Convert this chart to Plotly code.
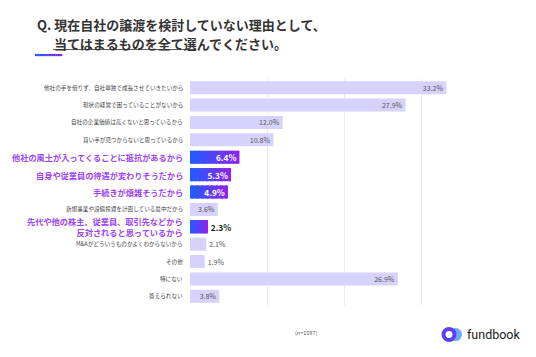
import plotly.graph_objects as go

categories = [
    "他社の手を借りず、自社単独で成長させていきたいから",
    "現状の経営で困っていることがないから",
    "自社の企業価値は高くないと思っているから",
    "買い手が見つからないと思っているから",
    "他社の風土が入ってくることに抵抗があるから",
    "自身や従業員の待遇が変わりそうだから",
    "手続きが煩雑そうだから",
    "新規事業や設備投資を計画している最中だから",
    "先代や他の株主、従業員、取引先などから<br>反対されると思っているから",
    "M&Aがどういうものかよくわからないから",
    "その他",
    "特にない",
    "答えられない",
]
values = [33.2, 27.9, 12.0, 10.8, 6.4, 5.3, 4.9, 3.6, 2.3, 2.1, 1.9, 26.9, 3.8]
highlight = [0, 0, 0, 0, 1, 1, 1, 0, 1, 0, 0, 0, 0]

OFF = 8  # page body margin
W, H = 536 - 2 * OFF, 357 - 2 * OFF
ML, MT = 190 - OFF, 79 - OFF
PW, PH = 309, 226.4
MR = W - ML - PW
MB = H - MT - PH
FONT = "Noto Sans CJK JP"

def px(x):
    return (x - OFF - ML) / PW

def py(y):
    return (MT + PH - (y - OFF)) / PH

ycats = [f"c{i}" for i in range(len(categories))]
BW = 0.75

fig = go.Figure()

light_y = [ycats[i] for i in range(len(values)) if not highlight[i]]
light_x = [values[i] for i in range(len(values)) if not highlight[i]]
fig.add_trace(go.Bar(y=light_y, x=light_x, orientation="h", width=BW,
                     marker=dict(color="#d5d2fb", line=dict(width=0)),
                     showlegend=False, hoverinfo="skip"))

def lerp(c1, c2, t):
    return "#%02x%02x%02x" % tuple(round(a + (b - a) * t) for a, b in zip(c1, c2))

C1, C2 = (0x1f, 0x5e, 0xff), (0x8e, 0x22, 0xee)
hi_idx = [i for i in range(len(values)) if highlight[i]]
N = 30
for k in range(N):
    fig.add_trace(go.Bar(
        y=[ycats[i] for i in hi_idx],
        x=[values[i] / N * (1.0 if k == N - 1 else 1.15) for i in hi_idx],
        base=[values[i] * k / N for i in hi_idx],
        orientation="h", width=BW,
        marker=dict(color=lerp(C1, C2, k / (N - 1)), line=dict(width=0)),
        showlegend=False, hoverinfo="skip"))

texts, pos, colors, sizes = [], [], [], []
for i, v in enumerate(values):
    t = f"{v:.1f}%"
    if highlight[i]:
        if v * PW / 40 > 26:
            texts.append(f"<b>{t}</b>"); pos.append("inside"); colors.append("#ffffff")
        else:
            texts.append(f"<b>{t}</b>"); pos.append("outside"); colors.append("#222222")
        sizes.append(8.3)
    else:
        pos.append("inside" if v * PW / 40 > 22 else "outside")
        texts.append(t); colors.append("#555555"); sizes.append(7)

fig.add_trace(go.Bar(y=ycats, x=values, orientation="h", width=BW,
                     marker=dict(color="rgba(0,0,0,0)", line=dict(width=0)),
                     text=texts, textposition=pos, insidetextanchor="end",
                     textfont=dict(color=colors, size=sizes, family=FONT),
                     constraintext="none", cliponaxis=False,
                     showlegend=False, hoverinfo="skip"))

annotations = []
for i, c in enumerate(categories):
    if highlight[i]:
        f = dict(family=FONT, size=8.2, color="#9d45f2")
        txt = f"<b>{c}</b>"
    else:
        f = dict(family=FONT, size=5.6, color="#444444")
        txt = c
    annotations.append(dict(x=0, xref="paper", y=ycats[i], yref="y", text=txt,
                            xanchor="right", xshift=-5, showarrow=False, font=f,
                            align="right"))

annotations.append(dict(x=px(35), y=py(24), xref="paper", yref="paper",
                        text="<b>Q. 現在自社の譲渡を検討していない理由として、</b>",
                        xanchor="left", yanchor="middle", showarrow=False,
                        font=dict(family=FONT, size=13, color="#333333")))
annotations.append(dict(x=px(52), y=py(43), xref="paper", yref="paper",
                        text="<b>当てはまるものを全て選んでください。</b>",
                        xanchor="left", yanchor="middle", showarrow=False,
                        font=dict(family=FONT, size=13, color="#333333")))
annotations.append(dict(x=px(306), y=py(333), xref="paper", yref="paper",
                        text="(n=1597)", xanchor="center", yanchor="middle",
                        showarrow=False, font=dict(family=FONT, size=5.5, color="#555555")))
annotations.append(dict(x=px(465), y=py(335), xref="paper", yref="paper",
                        text="fundbook", xanchor="left", yanchor="middle",
                        showarrow=False, font=dict(family="Roboto", size=12.5, color="#1a1a1a")))

shapes = []
shapes.append(dict(type="line", xref="paper", yref="paper", x0=px(53), x1=px(190),
                   y0=py(49.5), y1=py(49.5), line=dict(color="#555555", width=1)))
NS = 12
for k in range(NS):
    x0 = 35 + (62 - 35) * k / NS
    x1 = 35 + (62 - 35) * (k + 1) / NS + 0.3
    shapes.append(dict(type="line", xref="paper", yref="paper", x0=px(x0), x1=px(x1),
                       y0=py(55), y1=py(55),
                       line=dict(color=lerp(C1, C2, k / (NS - 1)), width=2.2)))
shapes.append(dict(type="circle", xref="paper", yref="paper",
                   x0=px(449), x1=px(462), y0=py(341.5), y1=py(328.5),
                   fillcolor="#6fa8ff", line=dict(width=0)))
shapes.append(dict(type="circle", xref="paper", yref="paper",
                   x0=px(441.5), x1=px(456.5), y0=py(342.5), y1=py(327.5),
                   fillcolor="#5a3ff5", line=dict(width=0)))
shapes.append(dict(type="circle", xref="paper", yref="paper",
                   x0=px(445.5), x1=px(452.5), y0=py(338.5), y1=py(331.5),
                   fillcolor="#ffffff", line=dict(width=0)))

fig.update_layout(
    width=W, height=H,
    margin=dict(l=ML, r=MR, t=MT, b=MB),
    paper_bgcolor="white", plot_bgcolor="white",
    barmode="overlay",
    font=dict(family=FONT),
    annotations=annotations, shapes=shapes,
    xaxis=dict(range=[0, 40], dtick=10, showgrid=True, gridcolor="#ebebeb",
               gridwidth=1.3, showticklabels=False, zeroline=False, fixedrange=True),
    yaxis=dict(type="category", categoryarray=ycats, autorange="reversed",
               showticklabels=False, showgrid=False, zeroline=False, fixedrange=True),
)

fig.write_html("out.html")
